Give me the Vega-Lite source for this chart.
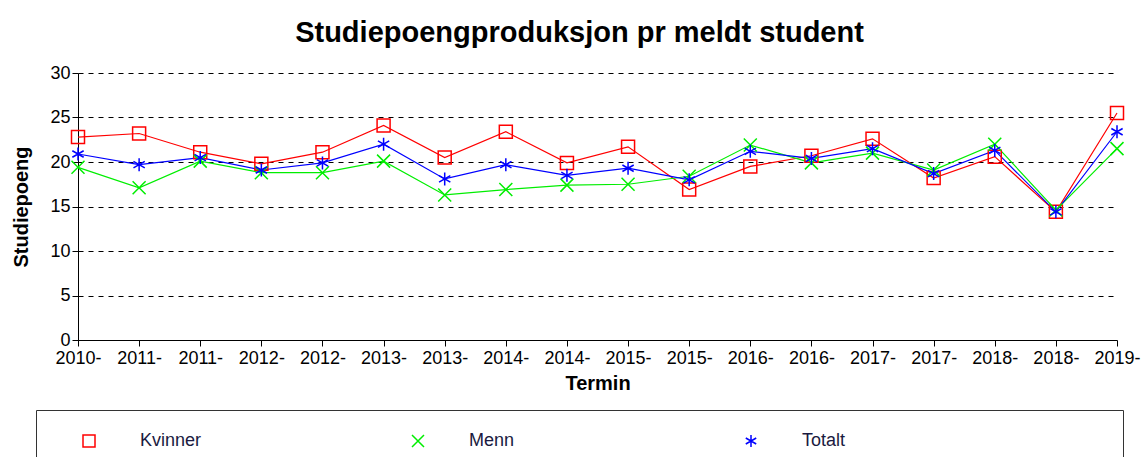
{
  "$schema": "https://vega.github.io/schema/vega-lite/v6.json",
  "autosize": {"type": "none"},
  "padding": {"left": 78, "top": 73, "right": 24, "bottom": 117},
  "width": 1039,
  "height": 267,
  "background": "white",
  "view": {"stroke": null},
  "title": {
    "text": "Studiepoengproduksjon pr meldt student",
    "font": "Liberation Sans",
    "fontSize": 29,
    "fontWeight": "bold",
    "color": "black",
    "anchor": "middle",
    "frame": "group",
    "dx": -18,
    "dy": 39,
    "baseline": "alphabetic",
    "offset": 32
  },
  "data": {
    "values": [
      {"termin": "2010-3", "serie": "Kvinner", "verdi": 22.8},
      {"termin": "2011-1", "serie": "Kvinner", "verdi": 23.2},
      {"termin": "2011-3", "serie": "Kvinner", "verdi": 21.1},
      {"termin": "2012-1", "serie": "Kvinner", "verdi": 19.8},
      {"termin": "2012-3", "serie": "Kvinner", "verdi": 21.1},
      {"termin": "2013-1", "serie": "Kvinner", "verdi": 24.1},
      {"termin": "2013-3", "serie": "Kvinner", "verdi": 20.5},
      {"termin": "2014-1", "serie": "Kvinner", "verdi": 23.4},
      {"termin": "2014-3", "serie": "Kvinner", "verdi": 19.9},
      {"termin": "2015-1", "serie": "Kvinner", "verdi": 21.7},
      {"termin": "2015-3", "serie": "Kvinner", "verdi": 16.9},
      {"termin": "2016-1", "serie": "Kvinner", "verdi": 19.5},
      {"termin": "2016-3", "serie": "Kvinner", "verdi": 20.7},
      {"termin": "2017-1", "serie": "Kvinner", "verdi": 22.6},
      {"termin": "2017-3", "serie": "Kvinner", "verdi": 18.2},
      {"termin": "2018-1", "serie": "Kvinner", "verdi": 20.6},
      {"termin": "2018-3", "serie": "Kvinner", "verdi": 14.4},
      {"termin": "2019-1", "serie": "Kvinner", "verdi": 25.5},
      {"termin": "2010-3", "serie": "Menn", "verdi": 19.4},
      {"termin": "2011-1", "serie": "Menn", "verdi": 17.1},
      {"termin": "2011-3", "serie": "Menn", "verdi": 20.1},
      {"termin": "2012-1", "serie": "Menn", "verdi": 18.8},
      {"termin": "2012-3", "serie": "Menn", "verdi": 18.8},
      {"termin": "2013-1", "serie": "Menn", "verdi": 20.1},
      {"termin": "2013-3", "serie": "Menn", "verdi": 16.3},
      {"termin": "2014-1", "serie": "Menn", "verdi": 16.9},
      {"termin": "2014-3", "serie": "Menn", "verdi": 17.4},
      {"termin": "2015-1", "serie": "Menn", "verdi": 17.5},
      {"termin": "2015-3", "serie": "Menn", "verdi": 18.4},
      {"termin": "2016-1", "serie": "Menn", "verdi": 21.9},
      {"termin": "2016-3", "serie": "Menn", "verdi": 19.9},
      {"termin": "2017-1", "serie": "Menn", "verdi": 21.0},
      {"termin": "2017-3", "serie": "Menn", "verdi": 19.1},
      {"termin": "2018-1", "serie": "Menn", "verdi": 22.0},
      {"termin": "2018-3", "serie": "Menn", "verdi": 14.6},
      {"termin": "2019-1", "serie": "Menn", "verdi": 21.5},
      {"termin": "2010-3", "serie": "Totalt", "verdi": 20.9},
      {"termin": "2011-1", "serie": "Totalt", "verdi": 19.7},
      {"termin": "2011-3", "serie": "Totalt", "verdi": 20.5},
      {"termin": "2012-1", "serie": "Totalt", "verdi": 19.1},
      {"termin": "2012-3", "serie": "Totalt", "verdi": 19.9},
      {"termin": "2013-1", "serie": "Totalt", "verdi": 22.0},
      {"termin": "2013-3", "serie": "Totalt", "verdi": 18.1},
      {"termin": "2014-1", "serie": "Totalt", "verdi": 19.7},
      {"termin": "2014-3", "serie": "Totalt", "verdi": 18.5},
      {"termin": "2015-1", "serie": "Totalt", "verdi": 19.3},
      {"termin": "2015-3", "serie": "Totalt", "verdi": 18.0},
      {"termin": "2016-1", "serie": "Totalt", "verdi": 21.2},
      {"termin": "2016-3", "serie": "Totalt", "verdi": 20.4},
      {"termin": "2017-1", "serie": "Totalt", "verdi": 21.5},
      {"termin": "2017-3", "serie": "Totalt", "verdi": 18.7},
      {"termin": "2018-1", "serie": "Totalt", "verdi": 21.3},
      {"termin": "2018-3", "serie": "Totalt", "verdi": 14.4},
      {"termin": "2019-1", "serie": "Totalt", "verdi": 23.4}
    ]
  },
  "encoding": {
    "x": {
      "field": "termin",
      "type": "ordinal",
      "scale": {"type": "point", "padding": 0},
      "axis": {
        "title": "Termin",
        "labelAngle": 0,
        "labelExpr": "slice(datum.label, 0, 5)",
        "labelOverlap": false,
        "labelFont": "Liberation Sans",
        "labelFontSize": 18,
        "labelColor": "black",
        "labelPadding": 3,
        "tickSize": 6,
        "tickColor": "black",
        "domainColor": "black",
        "titleFont": "Liberation Sans",
        "titleFontSize": 20,
        "titleFontWeight": "bold",
        "titleColor": "black",
        "titlePadding": 6,
        "grid": false
      }
    },
    "y": {
      "field": "verdi",
      "type": "quantitative",
      "scale": {"domain": [0, 30], "nice": false, "zero": true},
      "axis": {
        "title": "Studiepoeng",
        "values": [0, 5, 10, 15, 20, 25, 30],
        "labelFont": "Liberation Sans",
        "labelFontSize": 18,
        "labelColor": "black",
        "labelPadding": 2,
        "tickSize": 6,
        "tickColor": "black",
        "domainColor": "black",
        "titleFont": "Liberation Sans",
        "titleFontSize": 20,
        "titleFontWeight": "bold",
        "titleColor": "black",
        "titleX": -57,
        "titleBaseline": "middle",
        "grid": true,
        "gridColor": "black",
        "gridDash": [5, 5],
        "gridWidth": 1.2
      }
    },
    "color": {
      "field": "serie",
      "type": "nominal",
      "scale": {"domain": ["Kvinner", "Menn", "Totalt"], "range": ["#ff0000", "#00ee00", "#0000ff"]},
      "legend": {
        "title": null,
        "orient": "none",
        "legendX": -42,
        "legendY": 337,
        "direction": "horizontal",
        "columns": 3,
        "gridAlign": "each",
        "strokeColor": "#333333",
        "padding": 22,
        "symbolOffset": 22,
        "labelOffset": 42,
        "columnPadding": 185,
        "labelFont": "Liberation Sans",
        "labelFontSize": 18,
        "labelColor": "#1a1a40",
        "labelLimit": 0,
        "labelExpr": "datum.label == 'Menn' ? 'Menn\u00a0\u00a0\u00a0\u00a0\u200b' : datum.label == 'Totalt' ? 'Totalt\u00a0\u00a0\u00a0\u00a0\u00a0\u00a0\u00a0\u00a0\u00a0\u00a0\u00a0\u00a0\u00a0\u00a0\u00a0\u00a0\u00a0\u00a0\u00a0\u00a0\u00a0\u00a0\u00a0\u00a0\u00a0\u00a0\u00a0\u00a0\u00a0\u00a0\u00a0\u00a0\u00a0\u00a0\u00a0\u00a0\u00a0\u00a0\u00a0\u00a0\u00a0\u00a0\u00a0\u00a0\u00a0\u00a0\u00a0\u00a0\u00a0\u00a0\u00a0\u200b' : datum.label",
        "symbolSize": 144,
        "symbolStrokeWidth": 1.5,
        "symbolFillColor": "transparent",
        "encode": {"symbols": {"update": {"fill": {"value": "transparent"}}}}
      }
    }
  },
  "layer": [
    {
      "mark": {"type": "line", "strokeWidth": 1.2}
    },
    {
      "mark": {"type": "point", "filled": false, "size": 169, "strokeWidth": 1.5, "opacity": 1},
      "encoding": {
        "shape": {
          "field": "serie",
          "type": "nominal",
          "scale": {"domain": ["Kvinner", "Menn", "Totalt"], "range": ["square", "M-1,-1L1,1M-1,1L1,-1", "M0,-1L0,1M-0.87,-0.5L0.87,0.5M-0.87,0.5L0.87,-0.5"]}
        }
      }
    }
  ]
}
